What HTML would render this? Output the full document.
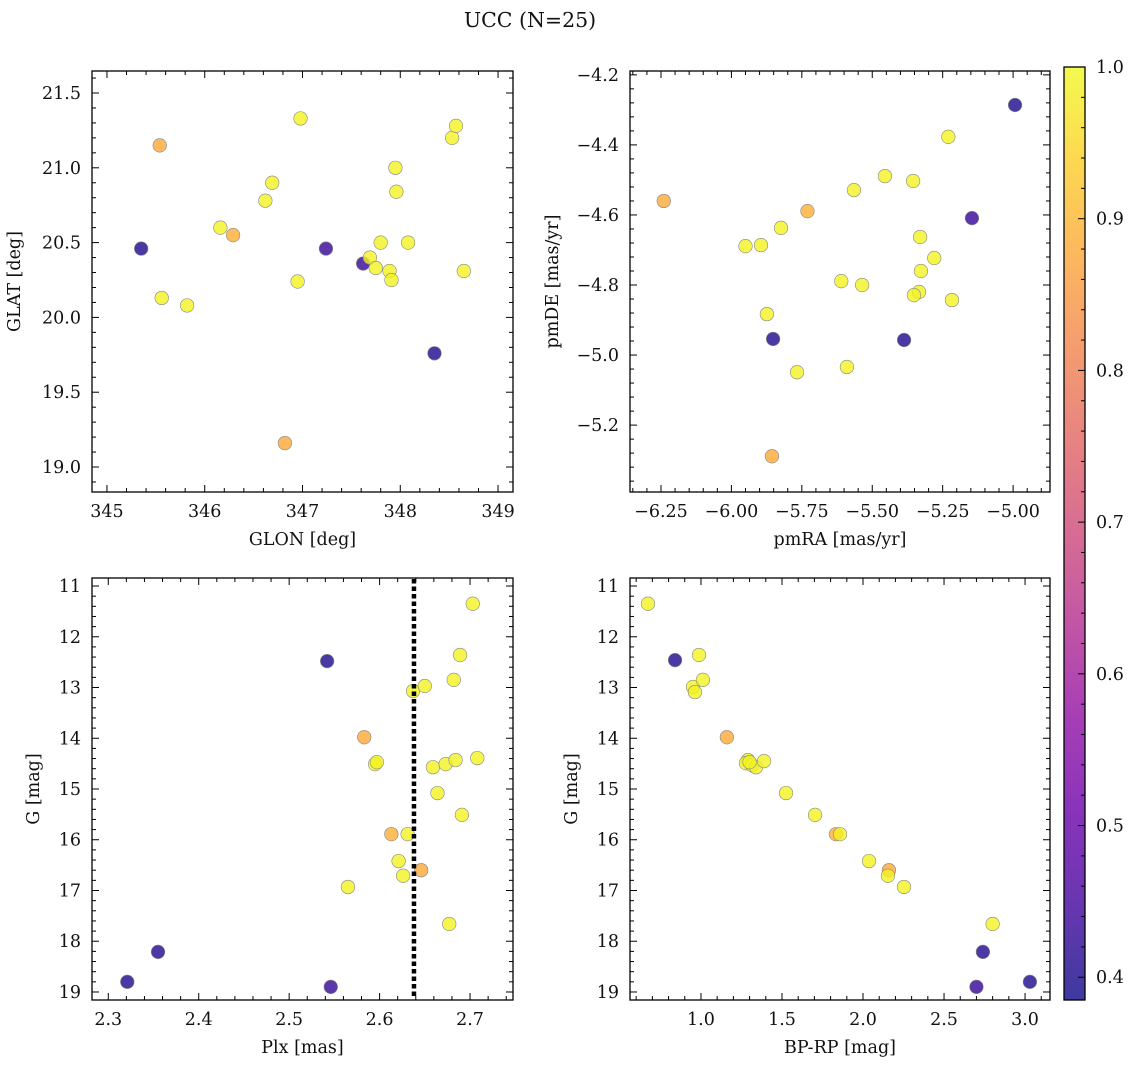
<!DOCTYPE html>
<html><head><meta charset="utf-8"><style>
body{margin:0;background:#fff;}
svg text{font-family:"DejaVu Serif","Liberation Serif",serif;fill:#111;}
</style></head><body>
<svg id="fig" width="1136" height="1067" xmlns="http://www.w3.org/2000/svg">
<defs><linearGradient id="cbg" x1="0" y1="1" x2="0" y2="0"></linearGradient></defs>
<text x="530" y="27" font-size="20.5" text-anchor="middle">UCC (N=25)</text>
</svg>
<script>
// Panel 1: GLON / GLAT
const p1Glon=[345.35,345.54,345.56,345.82,346.16,346.29,346.62,346.69,346.95,346.98,347.24,347.62,347.69,347.75,347.80,347.89,347.91,347.95,347.96,348.08,348.35,348.53,348.57,348.65,346.82];
const p1Glat=[20.46,21.15,20.13,20.08,20.60,20.55,20.78,20.90,20.24,21.33,20.46,20.36,20.40,20.33,20.50,20.31,20.25,21.00,20.84,20.50,19.76,21.20,21.28,20.31,19.16];
const p1Prob=[0.40,0.88,0.99,0.99,0.99,0.89,0.99,0.99,0.99,0.99,0.43,0.43,0.99,0.99,0.99,0.99,0.99,0.99,0.99,0.99,0.40,0.99,0.99,0.99,0.88];
// Panel 2: pmRA / pmDE
const p2Pmra=[-4.993,-5.23,-6.24,-5.455,-5.565,-5.355,-5.73,-5.146,-5.824,-5.95,-5.895,-5.33,-5.28,-5.327,-5.61,-5.536,-5.217,-5.334,-5.352,-5.874,-5.852,-5.387,-5.59,-5.767,-5.856];
const p2Pmde=[-4.286,-4.377,-4.56,-4.489,-4.529,-4.503,-4.589,-4.609,-4.637,-4.689,-4.686,-4.663,-4.723,-4.76,-4.789,-4.80,-4.843,-4.82,-4.829,-4.883,-4.954,-4.957,-5.034,-5.049,-5.289];
const p2Prob=[0.40,0.99,0.88,0.99,0.99,0.99,0.89,0.43,0.99,0.99,0.99,0.99,0.99,0.99,0.99,0.99,0.99,0.99,0.99,0.99,0.40,0.40,0.99,0.99,0.88];
// Panel 3: Plx / G
const p3Plx=[2.321,2.355,2.542,2.546,2.565,2.583,2.595,2.597,2.613,2.621,2.626,2.631,2.637,2.646,2.650,2.659,2.664,2.673,2.684,2.677,2.682,2.689,2.691,2.703,2.708];
const p3G=[18.80,18.21,12.48,18.90,16.93,13.98,14.51,14.47,15.89,16.42,16.71,15.89,13.07,16.60,12.97,14.57,15.08,14.51,14.43,17.66,12.85,12.36,15.51,11.35,14.39];
const p3Prob=[0.40,0.41,0.40,0.43,0.99,0.88,0.99,0.99,0.89,0.99,0.99,0.99,0.99,0.88,0.99,0.99,0.99,0.99,0.99,0.99,0.99,0.99,0.99,0.99,0.99];
const plxLine=2.638;
// Panel 4: BP-RP / G
const p4Bprp=[0.673,0.84,0.988,0.951,0.963,1.012,1.16,1.29,1.278,1.315,1.34,1.389,1.525,1.704,1.833,1.858,2.037,2.16,2.154,2.253,2.80,2.74,2.70,3.03,1.30];
const p4G=[11.35,12.46,12.36,12.99,13.09,12.85,13.98,14.43,14.49,14.53,14.57,14.45,15.08,15.51,15.89,15.89,16.42,16.60,16.71,16.93,17.66,18.21,18.90,18.80,14.47];
const p4Prob=[0.99,0.40,0.99,0.99,0.99,0.99,0.88,0.99,0.99,0.99,0.99,0.99,0.99,0.99,0.89,0.99,0.99,0.88,0.99,0.99,0.99,0.41,0.43,0.40,0.99];
const cbTicks=[0.4,0.5,0.6,0.7,0.8,0.9,1.0];

const NS="http://www.w3.org/2000/svg";
const svg=document.getElementById('fig');
const VMIN=0.385,VMAX=1.0;
const plasma=[[13,8,135],[65,4,157],[106,0,168],[143,13,164],[177,42,144],[204,71,120],[225,100,98],[242,132,75],[252,166,54],[252,206,37],[240,249,33]];
function cmap(v){let t=(v-VMIN)/(VMAX-VMIN);t=Math.max(0,Math.min(1,t));const f=t*(plasma.length-1);const i=Math.min(plasma.length-2,Math.floor(f));const r=f-i;const a=plasma[i],b=plasma[i+1];return `rgb(${Math.round(a[0]+(b[0]-a[0])*r)},${Math.round(a[1]+(b[1]-a[1])*r)},${Math.round(a[2]+(b[2]-a[2])*r)})`;}
function el(tag,attrs,parent){const e=document.createElementNS(NS,tag);for(const k in attrs)e.setAttribute(k,attrs[k]);(parent||svg).appendChild(e);return e;}
function fmt(v,dec){let s=v.toFixed(dec);if(v<0)s='\u2212'+s.slice(1);return s;}

function panel(name,box,xr,yr,xMaj,xMin,yMaj,yMin,xdec,ydec,xlabel,ylabel,xs,ys,ps,invertY){
  const [L,T,R,B]=box;
  const g=el('g',{});
  
  
  const sx=v=>L+(v-xr[0])/(xr[1]-xr[0])*(R-L);
  const sy=invertY?(v=>T+(v-yr[0])/(yr[1]-yr[0])*(B-T)):(v=>B-(v-yr[0])/(yr[1]-yr[0])*(B-T));
  const pts=el('g',{},g);
  
  
  for(let i=0;i<xs.length;i++){
    const c=el('circle',{cx:sx(xs[i]),cy:sy(ys[i]),r:6.8,fill:cmap(ps[i]),'fill-opacity':0.8,stroke:'#888','stroke-width':0.6},pts);
    
    
  }
  const ax=el('g',{stroke:'#000','stroke-width':1},g);
  
  
  const eps=1e-9;
  const lo=Math.min(xr[0],xr[1]),hi=Math.max(xr[0],xr[1]);
  for(let v=Math.ceil(lo/xMin-eps)*xMin;v<=hi+eps;v+=xMin){
    const isM=Math.abs(v/xMaj-Math.round(v/xMaj))<1e-6;const len=isM?7:4;const x=sx(v);
    el('line',{x1:x,x2:x,y1:B,y2:B-len},ax);el('line',{x1:x,x2:x,y1:T,y2:T+len},ax);
    if(isM){const t=el('text',{x:x,y:B+25,'font-size':17.5,'text-anchor':'middle',stroke:'none'},g);t.textContent=fmt(Math.round(v/xMaj)*xMaj,xdec);}
  }
  const ylo=Math.min(yr[0],yr[1]),yhi=Math.max(yr[0],yr[1]);
  for(let v=Math.ceil(ylo/yMin-eps)*yMin;v<=yhi+eps;v+=yMin){
    const isM=Math.abs(v/yMaj-Math.round(v/yMaj))<1e-6;const len=isM?7:4;const y=sy(v);
    el('line',{x1:L,x2:L+len,y1:y,y2:y},ax);el('line',{x1:R,x2:R-len,y1:y,y2:y},ax);
    if(isM){const t=el('text',{x:L-11,y:y+6,'font-size':17.5,'text-anchor':'end',stroke:'none'},g);t.textContent=fmt(Math.round(v/yMaj)*yMaj,ydec);}
  }
  el('rect',{x:L,y:T,width:R-L,height:B-T,fill:'none',stroke:'#000','stroke-width':1.3},ax);
  const xl=el('text',{x:(L+R)/2,y:B+53,'font-size':17.5,'text-anchor':'middle'},g);xl.textContent=xlabel;
  
  const yx=L-(ydec===0?53:72);
  const yl=el('text',{x:yx,y:(T+B)/2,'font-size':17.5,'text-anchor':'middle',transform:`rotate(-90 ${yx} ${(T+B)/2})`},g);yl.textContent=ylabel;
  
  return {sx,sy,g};
}

panel('glon-glat-panel',[92,71,513,492],[344.847,349.153],[18.833,21.647],1,0.2,0.5,0.1,0,1,'GLON [deg]','GLAT [deg]',p1Glon,p1Glat,p1Prob,false);
panel('pm-panel',[630,71,1050,492],[-6.360,-4.869],[-5.391,-4.189],0.25,0.05,0.2,0.04,2,1,'pmRA [mas/yr]','pmDE [mas/yr]',p2Pmra,p2Pmde,p2Prob,false);
const p3=panel('plx-g-panel',[92,578,513,1000],[2.282,2.7475],[10.842,19.158],0.1,0.02,1,0.2,1,0,'Plx [mas]','G [mag]',p3Plx,p3G,p3Prob,true);
const vl=el('line',{x1:p3.sx(plxLine),x2:p3.sx(plxLine),y1:579,y2:999,stroke:'#000','stroke-width':4.5,'stroke-dasharray':'4.5 3'},p3.g);


panel('cmd-panel',[630,578,1050,1000],[0.562,3.154],[10.842,19.158],0.5,0.1,1,0.2,1,0,'BP-RP [mag]','G [mag]',p4Bprp,p4G,p4Prob,true);

// colorbar
const grad=document.getElementById('cbg');
for(let i=0;i<=20;i++){const v=VMIN+(VMAX-VMIN)*i/20;el('stop',{offset:(i*5)+'%','stop-color':cmap(v),'stop-opacity':0.8},grad);}
const CL=1064,CR=1085,CT=67,CB=1000;
const cb=el('g',{});


el('rect',{x:CL,y:CT,width:CR-CL,height:CB-CT,fill:'url(#cbg)',stroke:'#000','stroke-width':1.3},cb);
const cy=v=>CB-(v-VMIN)/(VMAX-VMIN)*(CB-CT);
for(let k=20;k<=50;k++){const v=k*0.02;if(v<VMIN||v>VMAX+1e-9)continue;const y=cy(v);const isM=k%5===0;el('line',{x1:CR,x2:CR-(isM?7:4),y1:y,y2:y,stroke:'#000','stroke-width':1},cb);}
cbTicks.forEach(v=>{const t=el('text',{x:CR+11,y:cy(v)+6,'font-size':17.5},cb);t.textContent=v.toFixed(1);});
</script>
</body></html>
